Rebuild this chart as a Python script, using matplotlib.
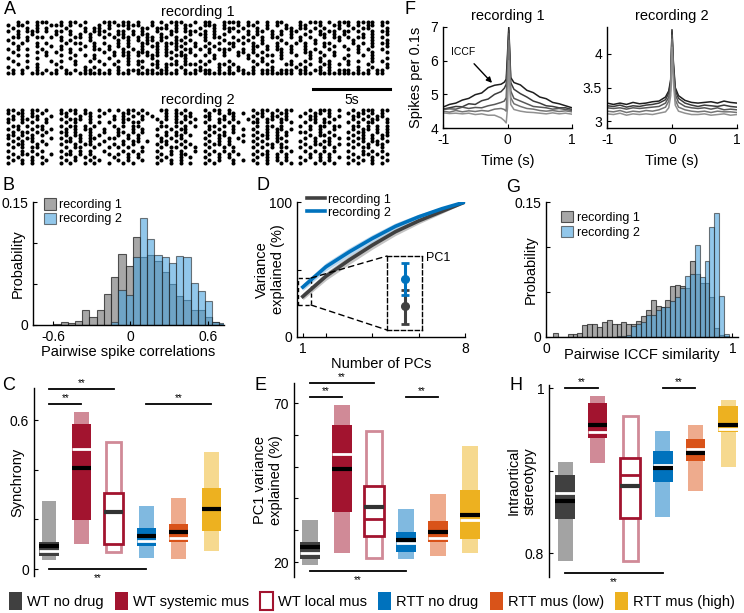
import matplotlib
matplotlib.use('Agg')
import matplotlib.pyplot as plt
import numpy as np
from matplotlib.patches import Patch, Rectangle, ConnectionPatch

plt.rcParams['font.family'] = 'Liberation Sans'
plt.rcParams['font.size'] = 10
plt.rcParams['axes.linewidth'] = 1.0
plt.rcParams['xtick.direction'] = 'in'
plt.rcParams['ytick.direction'] = 'in'
plt.rcParams['xtick.major.size'] = 3
plt.rcParams['ytick.major.size'] = 3
plt.rcParams['xtick.labelsize'] = 10
plt.rcParams['ytick.labelsize'] = 10
plt.rcParams['axes.labelsize'] = 10.5

# ---------------- data ----------------
# A: spike rasters, one string per neuron, '#' = spike in a 0.31 s bin
bin_s = 0.31
raster_rec1 = [
    "..#.#.###. .#.##.#... ###.##.#.. #.#.###..# .##..####. #.#.#.##.. .#.###.#.# ##.####.##",
    "#.##..#..# ##.#.#...# .#.#####.. #..#.#.##. .###.#..#. ##..#.#.#. .##..#..## .#.#.##.#.",
    ".#..#.#.#. ..#...#.## .#...#..## .###.#.#.. #..#.###.# ..#.#...## .##.#.#..# ..#.##...#",
    "#.#.###.#. ##.#..#.## #..##.#.#. .#..##.### .#.#..#.#. #.##.#.#.# #..#.#.##. ##.#..#.##",
    "..#..#.... #..#.#.#.# .#.##.#.## ..#.#...#. ##.#.#.... #.#..#.#.# ..#..##.#. #...#.#..#",
    ".##.#.##.# .#..##.#.. #.#.##.#.# #.##.#.#.. .#.##..#.# .#.#.##..# .#.#..#.## .#.##.#.#.",
    "#...#..... .#.#...#.. ...#.#.#.# #.#..##.#. .#...#..#. #..#...#.. .#..#....# ..#...#..#",
    ".#.#..#.#. ..#.##..#. #..#.#..## .#.###.#.# ..#.#.##.# .#.#..#.#. #.#.#.##.. ..#.#.#.##",
    "..#...#..# .#....#.#. .#.#.#..#. ##.#.##..# .#.#...#.. .##.#.#..# ..#...#.#. #..#..#..#",
    "#.#.#..#.. .#.#.#..## .#..#.#.#. .#.#.#.##. #.#.###..# .#..#.##.# ..#.#..#.. .#.#.#..#.",
    ".#....#.#. #..#...... #.#.##.### .#.##.#.#. ..#..#..## .#.#...#.# ..##.#..#. ...#..#..#",
    "..#.#...#. .#..#.#.#. ..#.##.#.# ##.#.###.# .#.#.#..#. #.#.##.#.. #..#..#.#. .#..#.#...",
    "#.....#... ...#....#. .#...#.... #...#..#.. ...#...... #..#...#.. ...#.#.... #.....#..#",
    ".#..#....# .#..#..#.# ...#.#.##. .#...#.#.. #.#...#... .#.#.#...# ..#..#.#.. .#.#..#.#.",
    "..#...#... #...#..... #.#..#.#.. ##.###.### .#..##.#.. ..#.#...## .#.#..##.# .#...#...#",
    "#...#.#... .#....#.#. ...#....#. .#.#..#... #...#.#.#. .#...#.... #.#..#.#.. ...#..#..#",
    ".#.#..#.#. #.#.#.##.# .#.#.###.# #.##.#.#.# ###.#.#.## .#.###.### .##.##.#.# ##.#.#.##.",
    "##.#.###.# #.##.##### ##.###.### ######.### .#######.# ##.####### .###.##### ######.##.",
]
raster_rec2 = [
    "##.#.##.#. .#.##.#..# .#.#.##.#. ..##.#.#.. .#.##.#... .#.##.#.## ...#.###.# ..#.###.##",
    "#.##.#.#.. .##.#.##.. #...##.#.# ...#.##.#. ..#.#.##.# ..##.#.##. ..#.##.#.. .#.##.#.#.",
    ".#.#.##..# ..#..#.#.# ..#.#.#.#. #..#.#.##. .##..#.#.. .#.#.##.#. .#.##..#.# ..##.#.##.",
    "##.##.#.#. .#.###.#.. ..#.##..#. .#.#.#.#.# ..#.##.#.. #.#.##.##. ...##.#.#. ..#.#.##.#",
    "#..#.#..#. ..#.#..#.# .#..#.##.. ..#..##.#. .#..#.#.#. .##.#..#.# ..#.#.##.. .#.#.##..#",
    ".##.#.##.. .#.##.#.#. ..#.#.##.. ..##.#.#.# ..##.#.#.. ..#.##.#.. .#.#.##.## ..##.#.#.#",
    "#.#..#.#.# ..#.#.##.. #..#..#.#. .#..#.##.. ..#.#..#.# .#..#.##.# ...#.#..#. ..#.##.#.#",
    ".#.##.#.#. .##.#..#.. #..##.#.#. ...#.#.#.. .#.#.#.#.. ..#.#.#.#. .##..#.#.. .#.##..#.#",
    "##.#.#.#.. ..#.##.#.# ...#.#.#.. .#.#.##.#. ..#.##...# .#.##.#.#. ...#.##.#. ..#.#.#.##",
    "#.#.##...# .#.#.#.##. .##..#.#.. ..#.#.#... .#..#.#.#. ..#.#.##.. ..#.#..#.# .#.##.#.#.",
    ".#.#.#.#.. ..##.#.#.. #...#.##.# ..##.#.#.. ..#.#.#..# .#.#..#.#. .#..#.##.. ..#.#.##.#",
    "#.##..#.#. .#..#.##.# ..#.#.#... .#.#..#.#. .#.##.#... ..#.##.#.. ..#.##.#.# .#.#.#.##.",
    ".#.#.##... ..#.##..#. .#.#.#..#. ..#.##.#.# ..#..#.#.. .#.#.#.##. .#.#..#.#. ..#.##..#.",
    "#..#.#.#.. .#.#.#.#.. #...#.#.#. .#..#.#..# .#.#.#.#.. ..#.#..#.# ..#.#.#.#. .#..#.#.#.",
    ".#.##.#..# ..##.#.#.. .#.#.#.#.. ..#.#.##.. ..#.#.#.#. .#.##.#.#. ...#.#.#.. ..#.##.#.#",
    "#.#..#.#.. .#..#.#.#. ..#..#.#.. .#.#..#.#. .#..#.#... ..#.#.#.#. .#.#.#.#.# .#.#..#.#.",
    ".#.#.#..#. ..#.#..#.# ...#.#..#. ..#.#.#... ..#.#..#.# .#..#.#.#. ..#..#.#.. ..#.#.#..#",
    "#..#.#.#.. .#.#..#.#. .#..#.#... .#..#.#.#. .#.#...#.. ..#.#..#.# .#..#.#.#. .#.#..#.#.",
]

# B: pairwise spike correlation histograms
corr_centers = [-0.57, -0.514, -0.458, -0.402, -0.346, -0.29, -0.234, -0.178, -0.122,
                -0.066, -0.01, 0.046, 0.102, 0.158, 0.214, 0.27, 0.326, 0.382, 0.438,
                0.494, 0.55, 0.606, 0.662, 0.718]
corr_width = 0.056
corr_rec1 = [0.001, 0.004, 0.003, 0.005, 0.018, 0.010, 0.018, 0.038, 0.058, 0.086, 0.072,
             0.107, 0.083, 0.085, 0.078, 0.065, 0.050, 0.035, 0.030, 0.018, 0.018, 0.010,
             0.004, 0.001]
corr_rec2 = [0, 0, 0, 0, 0, 0, 0, 0, 0.004, 0.043, 0.037, 0.083, 0.130, 0.105, 0.085,
             0.083, 0.076, 0.084, 0.083, 0.051, 0.041, 0.029, 0.004, 0.002]

# D: cumulative variance explained
n_pcs = [1, 2, 3, 4, 5, 6, 7, 8]
var_rec1 = [30, 45, 57, 68, 78, 86, 93, 100]
var_rec1_err = [2.5, 3.0, 3.2, 3.0, 2.8, 2.2, 1.5, 0.5]
var_rec2 = [37, 52, 63, 73, 82, 89, 95, 100]
var_rec2_err = [2.5, 3.0, 3.0, 2.8, 2.5, 2.0, 1.2, 0.5]
pc1_mean = [30.2, 37.4]
pc1_low = [25.3, 33.2]
pc1_high = [34.5, 41.7]

# F: ICCFs
t_iccf = [-1, -0.9, -0.8, -0.7, -0.6, -0.5, -0.4, -0.3, -0.2, -0.1, -0.05, -0.02, 0,
          0.02, 0.05, 0.1, 0.2, 0.3, 0.4, 0.5, 0.6, 0.7, 0.8, 0.9, 1]
iccf_rec1 = [
    [4.62, 4.70, 4.74, 4.83, 4.88, 4.99, 5.04, 5.20, 5.27, 5.30, 5.36, 5.45, 6.20, 7.00, 5.50,
     5.35, 5.28, 5.12, 5.05, 4.92, 4.87, 4.76, 4.72, 4.66, 4.60],
    [4.56, 4.60, 4.64, 4.63, 4.72, 4.70, 4.81, 4.86, 5.00, 5.08, 5.18, 5.30, 6.00, 6.90, 5.35,
     5.15, 5.02, 4.92, 4.80, 4.74, 4.66, 4.64, 4.60, 4.60, 4.55],
    [4.55, 4.57, 4.56, 4.62, 4.58, 4.61, 4.60, 4.66, 4.70, 4.76, 4.80, 4.90, 5.80, 6.80, 5.10,
     4.88, 4.80, 4.72, 4.64, 4.62, 4.60, 4.56, 4.58, 4.55, 4.52],
    [4.50, 4.47, 4.52, 4.48, 4.51, 4.49, 4.52, 4.50, 4.56, 4.58, 4.55, 4.50, 5.50, 6.60, 4.90,
     4.72, 4.64, 4.58, 4.56, 4.52, 4.50, 4.52, 4.49, 4.51, 4.48],
    [4.45, 4.43, 4.44, 4.42, 4.44, 4.40, 4.42, 4.38, 4.38, 4.30, 4.22, 4.15, 4.60, 6.00, 4.70,
     4.55, 4.50, 4.47, 4.46, 4.44, 4.42, 4.45, 4.42, 4.44, 4.41],
]
iccf_rec2 = [
    [3.27, 3.25, 3.27, 3.25, 3.28, 3.26, 3.27, 3.29, 3.30, 3.36, 3.45, 3.62, 4.36, 3.90, 3.50,
     3.38, 3.31, 3.28, 3.27, 3.28, 3.29, 3.27, 3.30, 3.28, 3.27],
    [3.23, 3.22, 3.24, 3.21, 3.23, 3.22, 3.24, 3.25, 3.27, 3.32, 3.42, 3.58, 4.32, 3.85, 3.46,
     3.34, 3.27, 3.24, 3.22, 3.24, 3.23, 3.22, 3.24, 3.22, 3.21],
    [3.20, 3.19, 3.20, 3.18, 3.20, 3.19, 3.20, 3.21, 3.22, 3.27, 3.36, 3.52, 4.28, 3.80, 3.40,
     3.28, 3.22, 3.20, 3.19, 3.20, 3.18, 3.20, 3.17, 3.18, 3.17],
    [3.15, 3.14, 3.16, 3.13, 3.15, 3.14, 3.16, 3.15, 3.17, 3.21, 3.30, 3.46, 4.22, 3.72, 3.32,
     3.21, 3.17, 3.15, 3.14, 3.15, 3.13, 3.15, 3.14, 3.14, 3.13],
    [3.11, 3.10, 3.12, 3.09, 3.11, 3.10, 3.11, 3.10, 3.12, 3.14, 3.20, 3.38, 4.10, 3.60, 3.24,
     3.15, 3.12, 3.10, 3.10, 3.11, 3.09, 3.10, 3.11, 3.09, 3.10],
]

# G: pairwise ICCF similarity histograms
sim_width = 0.02623
sim_first_edge = 0.0376
sim_rec1 = [0.004, 0, 0, 0.003, 0.003, 0.005, 0.013, 0.014, 0.015, 0.011, 0.017, 0.019,
            0.014, 0.014, 0.017, 0.014, 0.014, 0.018, 0.023, 0.030, 0.041, 0.034, 0.033,
            0.041, 0.057, 0.058, 0.057, 0.055, 0.085, 0.070, 0.060, 0.060, 0.045, 0.010,
            0.002, 0.001]
sim_rec2 = [0, 0, 0, 0, 0, 0, 0, 0, 0, 0, 0, 0, 0, 0.001, 0.001, 0.002, 0.012, 0.014,
            0.017, 0.025, 0.025, 0.030, 0.033, 0.033, 0.040, 0.045, 0.055, 0.068, 0.070,
            0.102, 0.067, 0.085, 0.122, 0.138, 0.046, 0.003]

# C, E, H: distributions per condition
groups = ['WT no drug', 'WT systemic mus', 'WT local mus', 'RTT no drug',
          'RTT mus (low)', 'RTT mus (high)']

sync_lo = [0.038, 0.100, 0.067, 0.043, 0.040, 0.071]
sync_hi = [0.272, 0.633, 0.513, 0.252, 0.285, 0.470]
sync_q1 = [0.054, 0.198, 0.100, 0.091, 0.108, 0.155]
sync_q3 = [0.107, 0.584, 0.305, 0.165, 0.181, 0.325]
sync_med = [0.094, 0.406, 0.230, 0.134, 0.151, 0.242]
sync_mark = [0.072, 0.482, 0.230, 0.114, 0.125, 0.242]

pc1_lo = [19.2, 23.0, 21.3, 20.9, 22.0, 22.8]
pc1_hi = [33.3, 69.3, 61.3, 36.8, 41.5, 56.4]
pc1_q1 = [20.9, 35.8, 28.3, 23.1, 26.4, 27.2]
pc1_q3 = [26.3, 63.0, 44.0, 29.3, 32.8, 42.6]
pc1_med = [24.6, 49.4, 37.4, 27.0, 29.6, 34.8]
pc1_mark = [23.0, 54.1, 33.5, 26.0, 27.7, 33.3]

ster_lo = [0.791, 0.909, 0.790, 0.844, 0.875, 0.905]
ster_hi = [0.911, 0.991, 0.966, 0.948, 0.955, 0.986]
ster_q1 = [0.841, 0.940, 0.843, 0.886, 0.912, 0.947]
ster_q3 = [0.895, 0.982, 0.915, 0.924, 0.939, 0.979]
ster_med = [0.863, 0.955, 0.882, 0.903, 0.922, 0.955]
ster_mark = [0.873, 0.947, 0.895, 0.907, 0.926, 0.950]

# significance brackets: (from group, to group, y, stars below?)
sig_C = [(1, 3, 0.723, False), (1, 2, 0.664, False), (4, 6, 0.664, False), (1, 4, 0.0, True)]
sig_E = [(1, 3, 76.3, False), (1, 2, 71.9, False), (4, 5, 71.9, False), (1, 4, 17.1, True)]
sig_H = [(1, 2, 1.0, False), (4, 5, 1.0, False), (1, 4, 0.776, True)]

# ---------------- style ----------------
dark_col = ['#404040', '#a2142f', '#a2142f', '#0072bd', '#d95319', '#edb120']
light_col = ['#a3a3a3', '#d08a97', '#d08a97', '#80b9e0', '#eeab8d', '#f6d98f']
hollow = [False, False, True, False, False, False]
gray_face = '#8a8a8a'
blue_face = '#4aa3dc'
line_grays = ['#1e1e1e', '#3c3c3c', '#585858', '#747474', '#909090']

W, H = 744, 613


def box(x0, y0, x1, y1):
    return [x0 / W, 1 - y1 / H, (x1 - x0) / W, (y1 - y0) / H]


def clean(ax):
    ax.spines['top'].set_visible(False)
    ax.spines['right'].set_visible(False)


def draw_groups(ax, lo, hi, q1, q3, med, mark, w_light, w_dark):
    for i in range(len(groups)):
        x = i + 1
        if hollow[i]:
            ax.bar(x, hi[i] - lo[i], bottom=lo[i], width=w_light, facecolor='white',
                   edgecolor=light_col[i], linewidth=2)
            ax.bar(x, q3[i] - q1[i], bottom=q1[i], width=w_dark, facecolor='white',
                   edgecolor=dark_col[i], linewidth=2)
            ax.hlines(mark[i], x - w_dark / 2, x + w_dark / 2, color=dark_col[i], lw=2)
            ax.hlines(med[i], x - w_dark / 2, x + w_dark / 2, color='#333333', lw=3)
        else:
            ax.bar(x, hi[i] - lo[i], bottom=lo[i], width=w_light, color=light_col[i])
            ax.bar(x, q3[i] - q1[i], bottom=q1[i], width=w_dark, color=dark_col[i])
            ax.hlines(mark[i], x - w_dark / 2, x + w_dark / 2, color='white', lw=2)
            ax.hlines(med[i], x - w_dark / 2, x + w_dark / 2, color='black', lw=3)


def draw_sig(ax, sigs):
    for g1, g2, y, below in sigs:
        ax.plot([g1, g2], [y, y], color='black', lw=1.3, clip_on=False)
        off = -10 if below else 1
        ax.annotate('**', xy=((g1 + g2) / 2, y), xytext=(0, off), textcoords='offset points',
                    ha='center', va='bottom', fontsize=7, annotation_clip=False)


def letter(x, y, s):
    fig.text(x / W, 1 - y / H, s, fontsize=13, ha='center', va='center')


fig = plt.figure(figsize=(7.44, 6.13), dpi=100)

# ---------------- A ----------------
for k, (rows, rect, title) in enumerate([(raster_rec1, box(5, 20, 390, 75), 'recording 1'),
                                         (raster_rec2, box(5, 108, 390, 165), 'recording 2')]):
    ax = fig.add_axes(rect)
    for r, row in enumerate(rows):
        idx = [j for j, c in enumerate(row.replace(' ', '')) if c == '#']
        ax.plot(np.array(idx) * bin_s, np.full(len(idx), r + 1), 'o', color='black',
                ms=2.9, mew=0)
    ax.set_xlim(-0.2, 24.7)
    ax.set_ylim(len(rows) + 0.6, 0.4)
    ax.axis('off')
    ax.set_title(title, fontsize=10.5, pad=3)
    if k == 0:
        tr = ax.get_xaxis_transform()
        ax.plot([19.7, 24.7], [-0.255, -0.255], color='black', lw=2.2, transform=tr,
                clip_on=False)
        ax.text(22.2, -0.46, '5s', transform=tr, ha='center', va='center', fontsize=10)
letter(10, 9, 'A')

# ---------------- F ----------------
axF1 = fig.add_axes(box(443, 27, 572, 128))
for c, ys in zip(line_grays, iccf_rec1):
    axF1.plot(t_iccf, ys, color=c, lw=1.1)
axF1.set_xlim(-1, 1)
axF1.set_ylim(4, 7)
axF1.set_yticks([4, 5, 6, 7])
axF1.set_xticks([-1, 0, 1])
axF1.set_xticklabels(['-1', '0', '1'])
axF1.set_xlabel('Time (s)', labelpad=5)
axF1.set_ylabel('Spikes per 0.1s')
axF1.yaxis.set_label_coords(-0.155, 0.5)
axF1.set_title('recording 1', fontsize=10.5, pad=5)
axF1.annotate('ICCF', xy=(-0.24, 5.34), xytext=(-0.69, 6.26), ha='center', va='center',
              fontsize=7.5, arrowprops=dict(arrowstyle='-|>', color='black', lw=1,
                                             mutation_scale=8, shrinkA=4, shrinkB=0))
clean(axF1)

axF2 = fig.add_axes(box(607, 27, 737, 128))
for c, ys in zip(line_grays, iccf_rec2):
    axF2.plot(t_iccf, ys, color=c, lw=1.1)
axF2.set_xlim(-1, 1)
axF2.set_ylim(2.9, 4.4)
axF2.set_yticks([3, 3.5, 4])
axF2.set_yticklabels(['3', '3.5', '4'])
axF2.set_xticks([-1, 0, 1])
axF2.set_xticklabels(['-1', '0', '1'])
axF2.set_xlabel('Time (s)', labelpad=5)
axF2.set_title('recording 2', fontsize=10.5, pad=5)
clean(axF2)
letter(410, 9, 'F')

# ---------------- B ----------------
axB = fig.add_axes(box(33, 202, 224, 325))
axB.bar(corr_centers, corr_rec1, width=corr_width, color=gray_face, alpha=0.75,
        edgecolor='#222222', linewidth=0.8, label='recording 1')
axB.bar(corr_centers, corr_rec2, width=corr_width, color=blue_face, alpha=0.6,
        edgecolor='#222222', linewidth=0.8, label='recording 2')
axB.set_xlim(-0.756, 0.725)
axB.set_ylim(0, 0.15)
axB.set_xticks([-0.6, 0, 0.6])
axB.set_xticklabels(['-0.6', '0', '0.6'])
axB.set_yticks([0, 0.05, 0.1, 0.15])
axB.set_yticklabels(['0', '', '', '0.15'])
axB.set_xlabel('Pairwise spike correlations', labelpad=1)
axB.set_ylabel('Probability')
axB.yaxis.set_label_coords(-0.042, 0.5)
axB.legend(loc='upper left', bbox_to_anchor=(0.03, 1.07), frameon=False, fontsize=9,
           handlelength=1.0, handleheight=1.0, handletextpad=0.2, labelspacing=0.1,
           borderaxespad=0)
clean(axB)
letter(8, 186, 'B')

# ---------------- D ----------------
axD = fig.add_axes(box(297, 202, 465, 337))
v1 = np.array(var_rec1)
e1 = np.array(var_rec1_err)
v2 = np.array(var_rec2)
e2 = np.array(var_rec2_err)
axD.fill_between(n_pcs, v1 - e1, v1 + e1, color='#c4c4c4', lw=0)
axD.fill_between(n_pcs, v2 - e2, v2 + e2, color='#a9cde9', lw=0, alpha=0.8)
l1, = axD.plot(n_pcs, var_rec1, color='#404040', lw=2.6)
l2, = axD.plot(n_pcs, var_rec2, color='#0072bd', lw=2.6)
axD.set_xlim(0.75, 8)
axD.set_ylim(0, 100)
axD.set_xticks([1, 2, 4, 6, 8])
axD.set_xticklabels(['1', '', '', '', '8'])
axD.set_yticks([0, 50, 100])
axD.set_yticklabels(['0', '', '100'])
axD.set_xlabel('Number of PCs', labelpad=1)
axD.set_ylabel('Variance\nexplained (%)')
axD.yaxis.set_label_coords(-0.071, 0.5)
axD.legend([l1, l2], ['recording 1', 'recording 2'], loc='upper left',
           bbox_to_anchor=(0.03, 1.1), frameon=False, fontsize=9, handlelength=1.4,
           handletextpad=0.3, labelspacing=0.1, borderaxespad=0)
clean(axD)
# zoom box around PC1 and inset
small = Rectangle((0.796, 23.7), 0.56, 20, fill=False, ls=(0, (3, 2)), lw=1, ec='black')
axD.add_patch(small)
axI = fig.add_axes(box(387, 256, 422, 330))
for k, col in enumerate(['#404040', '#0072bd']):
    axI.errorbar([0.5], [pc1_mean[k]],
                 yerr=[[pc1_mean[k] - pc1_low[k]], [pc1_high[k] - pc1_mean[k]]],
                 fmt='o', color=col, ms=5.5, lw=2.2, capsize=3, capthick=2)
axI.set_xlim(0, 1)
axI.set_ylim(23.7, 43.7)
axI.set_xticks([])
axI.set_yticks([])
axI.patch.set_alpha(0)
for s in axI.spines.values():
    s.set_linestyle((0, (3, 2)))
    s.set_linewidth(1)
axI.text(1.12, 0.97, 'PC1', transform=axI.transAxes, fontsize=9, ha='left', va='center')
for ya, yb in [(43.7, 1), (23.7, 0)]:
    con = ConnectionPatch(xyA=(1.356, ya), coordsA=axD.transData, xyB=(0, yb),
                          coordsB=axI.transAxes, ls=(0, (4, 3)), lw=1, color='black')
    fig.add_artist(con)
letter(263, 186, 'D')

# ---------------- G ----------------
axG = fig.add_axes(box(546, 202, 738, 337))
sim_centers = sim_first_edge + sim_width * (np.arange(len(sim_rec1)) + 0.5)
axG.bar(sim_centers, sim_rec1, width=sim_width, color=gray_face, alpha=0.75,
        edgecolor='#222222', linewidth=0.8, label='recording 1')
axG.bar(sim_centers, sim_rec2, width=sim_width, color=blue_face, alpha=0.6,
        edgecolor='#222222', linewidth=0.8, label='recording 2')
axG.set_xlim(0, 1.03)
axG.set_ylim(0, 0.15)
axG.set_xticks([0, 1])
axG.set_xticklabels(['0', '1'])
axG.set_yticks([0, 0.05, 0.1, 0.15])
axG.set_yticklabels(['0', '', '', '0.15'])
axG.set_xlabel('Pairwise ICCF similarity', labelpad=-6)
axG.set_ylabel('Probability')
axG.yaxis.set_label_coords(-0.042, 0.5)
axG.legend(loc='upper left', bbox_to_anchor=(0.05, 0.97), frameon=False, fontsize=9,
           handlelength=1.0, handleheight=1.0, handletextpad=0.3, labelspacing=0.15,
           borderaxespad=0)
clean(axG)
letter(513, 187, 'G')

# ---------------- C ----------------
axC = fig.add_axes(box(34, 388, 227, 576))
draw_groups(axC, sync_lo, sync_hi, sync_q1, sync_q3, sync_med, sync_mark, 0.46, 0.59)
draw_sig(axC, sig_C)
axC.set_xlim(0.537, 6.49)
axC.set_ylim(-0.028, 0.729)
axC.set_yticks([0, 0.2, 0.4, 0.6])
axC.set_yticklabels(['0', '', '', '0.6'])
axC.set_xticks([])
axC.set_ylabel('Synchrony')
axC.yaxis.set_label_coords(-0.052, 0.5)
clean(axC)
axC.spines['bottom'].set_visible(False)
letter(9, 385, 'C')

# ---------------- E ----------------
axE = fig.add_axes(box(294, 383, 486, 577))
draw_groups(axE, pc1_lo, pc1_hi, pc1_q1, pc1_q3, pc1_med, pc1_mark, 0.47, 0.6)
draw_sig(axE, sig_E)
axE.set_xlim(0.5, 6.5)
axE.set_ylim(15.3, 76.3)
axE.set_yticks([20, 30, 40, 50, 60, 70])
axE.set_yticklabels(['20', '', '', '', '', '70'])
axE.set_xticks([])
axE.set_ylabel('PC1 variance\nexplained (%)')
axE.yaxis.set_label_coords(-0.057, 0.5)
clean(axE)
axE.spines['bottom'].set_visible(False)
letter(260, 385, 'E')

# ---------------- H ----------------
axH = fig.add_axes(box(549, 385, 744, 577))
draw_groups(axH, ster_lo, ster_hi, ster_q1, ster_q3, ster_med, ster_mark, 0.46, 0.6)
draw_sig(axH, sig_H)
axH.set_xlim(0.509, 6.49)
axH.set_ylim(0.771, 1.004)
axH.set_yticks([0.8, 0.9, 1.0])
axH.set_yticklabels(['0.8', '', '1'])
axH.set_xticks([])
axH.set_ylabel('Intraortical\nstereotypy')
axH.yaxis.set_label_coords(-0.062, 0.5)
clean(axH)
axH.spines['bottom'].set_visible(False)
letter(516, 385, 'H')

# ---------------- legend ----------------
handles = []
for i in range(len(groups)):
    if hollow[i]:
        handles.append(Patch(facecolor='white', edgecolor=dark_col[i], linewidth=1.5))
    else:
        handles.append(Patch(facecolor=dark_col[i], edgecolor='none'))
fig.legend(handles, groups, loc='center', bbox_to_anchor=(0.5, 1 - 601 / H), ncol=6,
           frameon=False, fontsize=10.5, handlelength=0.9, handleheight=1.5,
           handletextpad=0.35, columnspacing=0.75, borderaxespad=0)

fig.savefig('out.png', dpi=100)
